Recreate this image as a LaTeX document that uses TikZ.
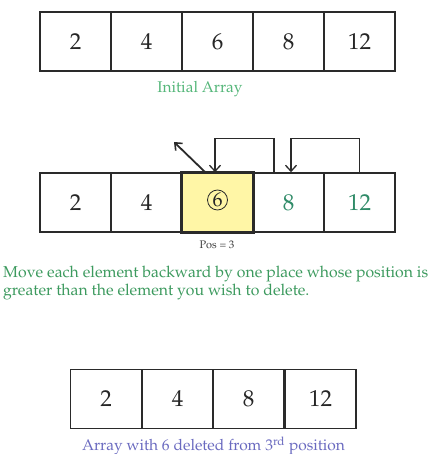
\documentclass[tikz,border=0pt]{standalone}
\usepackage[T1]{fontenc}
\usepackage{mathpazo}
\usetikzlibrary{arrows.meta}
\definecolor{initgreen}{HTML}{55B77A}
\definecolor{movegreen}{HTML}{3C9A5E}
\definecolor{numgreen}{HTML}{2F8B68}
\definecolor{capblue}{HTML}{6A6AC0}
\definecolor{cellyellow}{HTML}{FFF6A6}
\definecolor{frame}{HTML}{2A2A2A}
\tikzset{
  cell/.style={draw=frame, line width=1.6pt, minimum width=71pt, minimum height=59pt,
    inner sep=0pt, font=\fontsize{23}{25}\selectfont, text=black!85},
  caption/.style={inner sep=0pt, font=\fontsize{15.5}{18}\selectfont},
  movearrow/.style={draw=frame, line width=1.3pt, -{Straight Barb[length=6pt,width=11pt,line width=1.3pt]}},
}
\begin{document}
\begin{tikzpicture}[x=1pt,y=-1pt]
\useasboundingbox[fill=white] (0,0) rectangle (433,454);
% initial array
\node[cell] (a1) at (75.5,41.5) {2};
\node[cell] (a2) at (146.5,41.5) {4};
\node[cell] (a3) at (217.5,41.5) {6};
\node[cell] (a4) at (288.5,41.5) {8};
\node[cell] (a5) at (359.5,41.5) {12};
\node[caption, text=initgreen] (t1) at (200,89) {Initial Array};
% middle array
\node[cell] (m1) at (75.5,202.5) {2};
\node[cell] (m2) at (146.5,202.5) {4};
\node[cell, fill=cellyellow] (m3) at (217.5,202.5) {};
\node[circle, draw=frame, line width=0.8pt, minimum size=20pt, inner sep=0pt,
  font=\fontsize{20}{22}\selectfont, text=black!85] (c6) at (217.5,200) {6};
\node[cell, text=numgreen] (m4) at (288.5,202.5) {8};
\node[cell, text=numgreen] (m5) at (359.5,202.5) {12};
\draw[draw=frame, line width=1.6pt] (m3.south west) rectangle (m3.north east);
\coordinate (d1) at (205,172);
\coordinate (d2) at (174,142);
\draw[draw=frame, line width=1.8pt, -{Straight Barb[length=6pt,width=10pt,line width=1.6pt]}] (d1) -- (d2);
\draw[movearrow] ([xshift=-14.5pt]m4.north) -- ++(0,-34) -| ([xshift=-2.5pt]m3.north);
\draw[movearrow] (m5.north) -- ++(0,-34) -| ([xshift=2.5pt]m4.north);
\node[caption, font=\fontsize{11}{13}\selectfont, text=black!75] (pos) at (217,245) {Pos = 3};
\node[caption, font=\fontsize{15.8}{18}\selectfont, text=movegreen, anchor=west, align=left] (mv) at (3,283)
  {Move each element backward by one place whose position is\\greater than the element you wish to delete.};
% final array
\node[cell] (f1) at (106,399) {2};
\node[cell] (f2) at (177.5,399) {4};
\node[cell] (f3) at (248.5,399) {8};
\node[cell] (f4) at (320.5,399) {12};
\node[caption, text=capblue] (t3) at (213.5,446) {Array with 6 deleted from 3\textsuperscript{rd} position};
\end{tikzpicture}
\end{document}
